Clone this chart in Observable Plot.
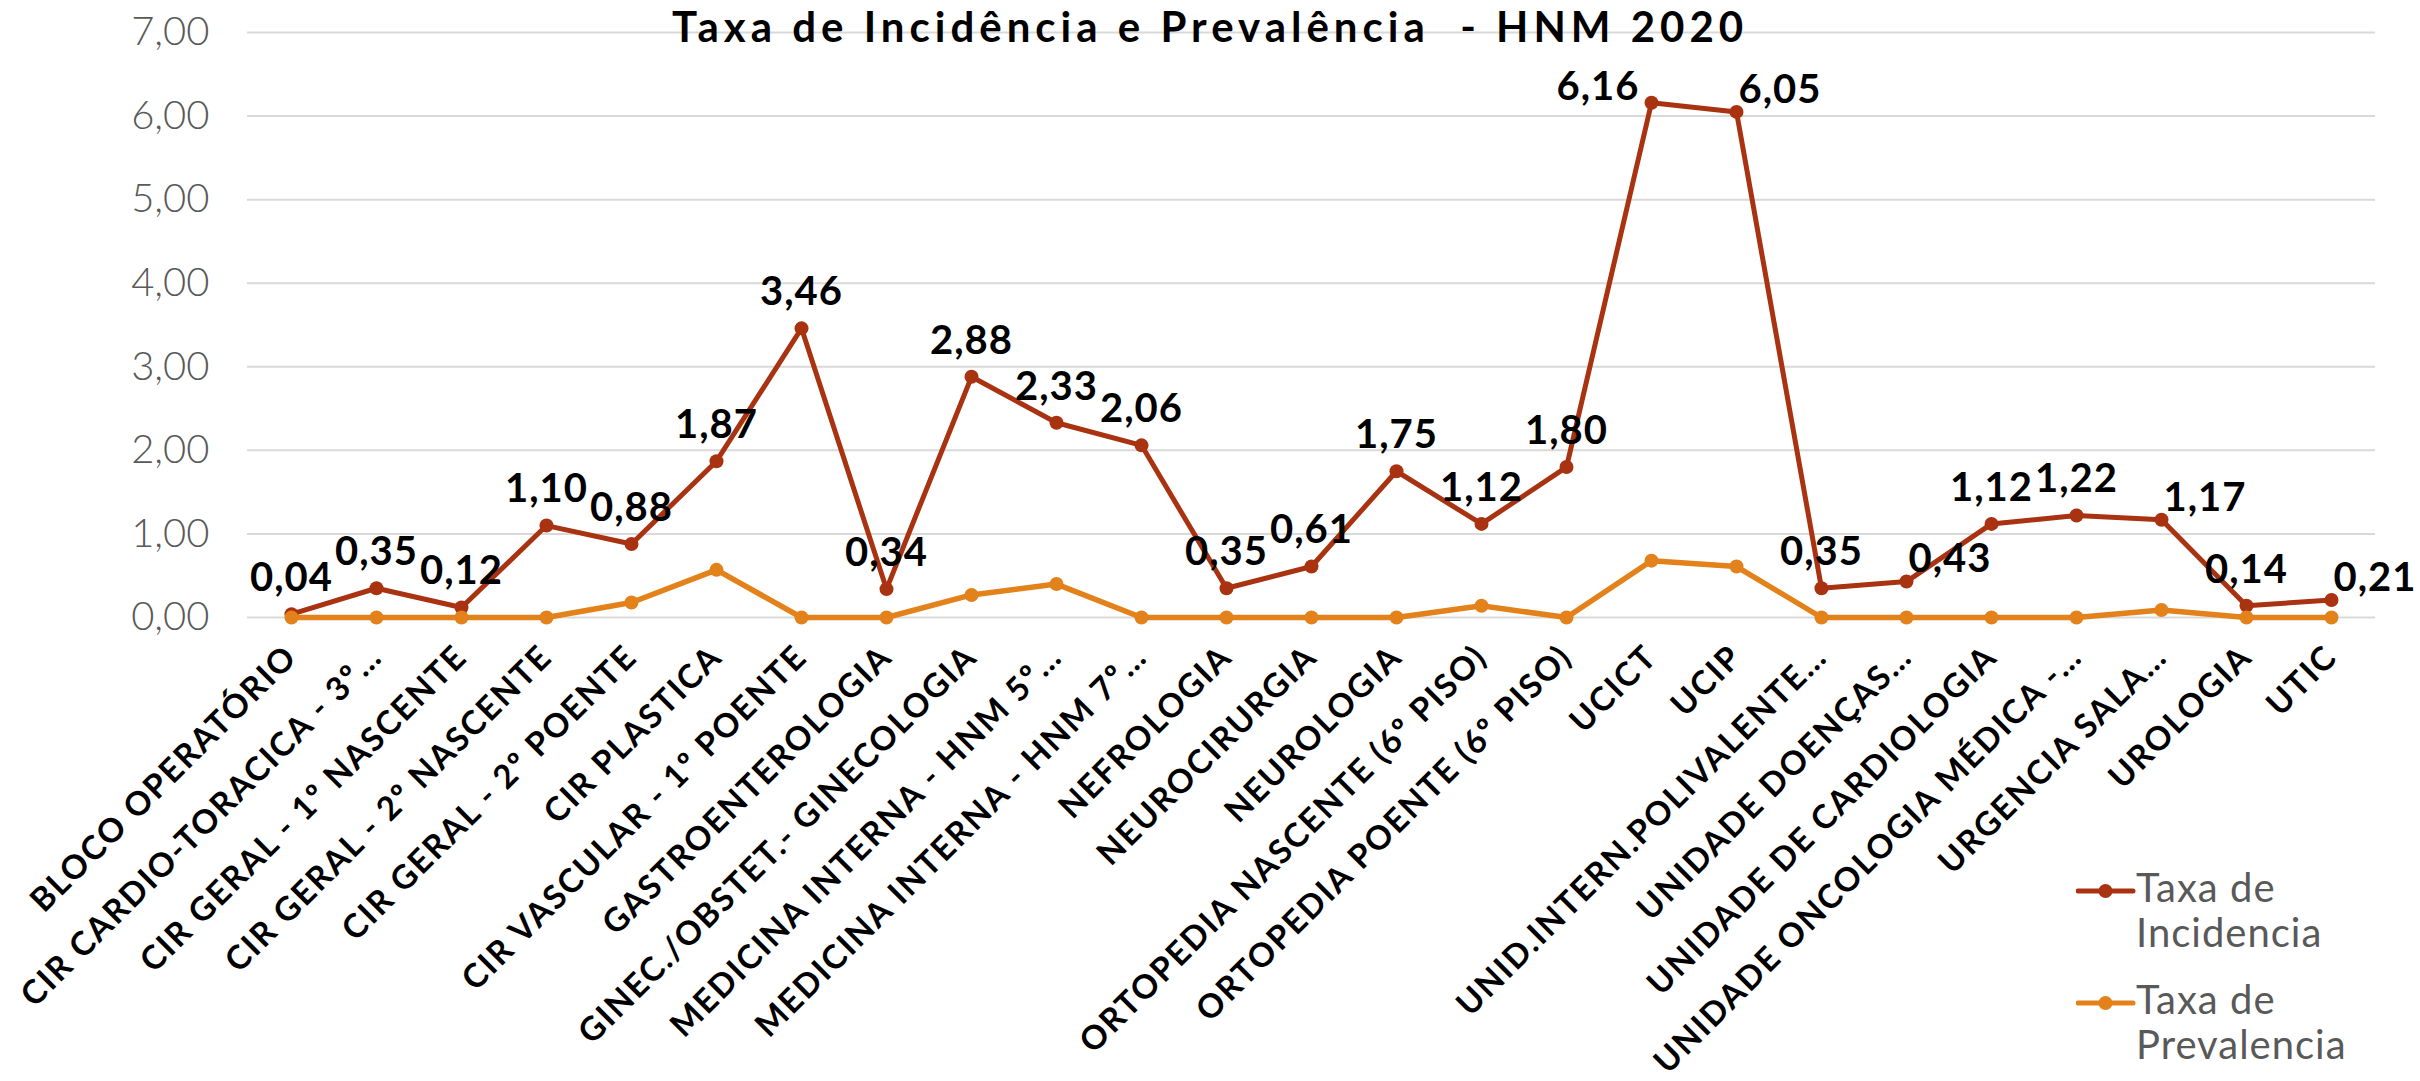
<!DOCTYPE html>
<html>
<head>
<meta charset="utf-8">
<script src="https://cdn.jsdelivr.net/npm/d3@7"></script>
<script src="https://cdn.jsdelivr.net/npm/@observablehq/plot@0.6"></script>
<style>
  html, body { margin: 0; padding: 0; background: #fff; overflow: hidden; }
  #wrap { position: relative; width: 2420px; height: 1081px; overflow: hidden; font-family: Lato, "Open Sans", sans-serif; }
  #title { position: absolute; left: 0; width: 2420px; top: 1px; text-align: center; font-weight: bold; font-size: 42px; letter-spacing: 5px; line-height: 51px; color: #000; white-space: pre; }
  #legend { position: absolute; left: 2076px; top: 865px; font-size: 40px; letter-spacing: 1px; line-height: 45px; color: #595959; }
  .item { display: flex; align-items: flex-start; margin-bottom: 22px; }
  .item svg { margin-top: 14px; flex: none; }
  g[aria-label="x-axis tick label"] text { font-weight: bold; letter-spacing: 1.8px; }
  g[aria-label="text"] text { letter-spacing: 1px; }
</style>
</head>
<body>
<div id="wrap">
  <div id="chart"></div>
  <div id="title"></div>
  <div id="legend"></div>
</div>
<script>
const categories = [
  "BLOCO OPERATÓRIO",
  "CIR CARDIO-TORACICA - 3º…",
  "CIR GERAL - 1º NASCENTE",
  "CIR GERAL - 2º NASCENTE",
  "CIR GERAL - 2º POENTE",
  "CIR PLASTICA",
  "CIR VASCULAR - 1º POENTE",
  "GASTROENTEROLOGIA",
  "GINEC./OBSTET.- GINECOLOGIA",
  "MEDICINA INTERNA - HNM 5º…",
  "MEDICINA INTERNA - HNM 7º…",
  "NEFROLOGIA",
  "NEUROCIRURGIA",
  "NEUROLOGIA",
  "ORTOPEDIA NASCENTE (6º PISO)",
  "ORTOPEDIA POENTE (6º PISO)",
  "UCICT",
  "UCIP",
  "UNID.INTERN.POLIVALENTE…",
  "UNIDADE DOENÇAS…",
  "UNIDADE DE CARDIOLOGIA",
  "UNIDADE ONCOLOGIA MÉDICA -…",
  "URGENCIA SALA…",
  "UROLOGIA",
  "UTIC"
];
const incidencia = [0.04, 0.35, 0.12, 1.10, 0.88, 1.87, 3.46, 0.34, 2.88, 2.33, 2.06, 0.35, 0.61, 1.75, 1.12, 1.80, 6.16, 6.05, 0.35, 0.43, 1.12, 1.22, 1.17, 0.14, 0.21];
const prevalencia = [0, 0, 0, 0, 0.18, 0.57, 0, 0, 0.27, 0.40, 0, 0, 0, 0, 0.14, 0, 0.68, 0.61, 0, 0, 0, 0, 0.09, 0, 0];
const seriesNames = ["Taxa de Incidencia", "Taxa de Prevalencia"];
const seriesLegendLines = [["Taxa de", "Incidencia"], ["Taxa de", "Prevalencia"]];
const seriesColors = ["#A93211", "#E3811B"];
const yTicks = [0, 1, 2, 3, 4, 5, 6, 7];
const titleText = "Taxa de Incidência e Prevalência  - HNM 2020";

const fmt = v => v.toFixed(2).replace(".", ",");
const incRows = categories.map((c, i) => ({cat: c, v: incidencia[i]}));
const preRows = categories.map((c, i) => ({cat: c, v: prevalencia[i]}));

// label side: push a label outward when its neighbour has almost the same value
const near = (a, b) => b !== undefined && Math.abs(a - b) < 0.15;
incRows.forEach((d, i) => {
  const prev = incidencia[i - 1], next = incidencia[i + 1];
  const l = near(d.v, prev), r = near(d.v, next);
  d.side = r && prev !== undefined && d.v - prev > 1 ? "left" : l && !r ? "right" : "middle";
});
const labelStyle = {x: "cat", y: "v", text: d => fmt(d.v), fontSize: 40, fontWeight: "bold", fill: "#000"};

const chart = Plot.plot({
  width: 2420,
  height: 1081,
  marginLeft: 247,
  marginRight: 45,
  marginTop: 32,
  marginBottom: 464,
  style: {fontFamily: "Lato, 'Open Sans', sans-serif", background: "#fff", overflow: "visible"},
  x: {type: "point", domain: categories, padding: 0.5, label: null},
  y: {domain: [0, 7], label: null},
  marks: [
    Plot.ruleY(yTicks, {stroke: "#d9d9d9", strokeWidth: 2}),
    Plot.axisY({ticks: yTicks, tickSize: 0, tickPadding: 38, tickFormat: fmt, fontSize: 40, fill: "#595959", fontWeight: 300, label: null}),
    Plot.axisX({tickSize: 0, tickPadding: 34, tickRotate: -45, fontSize: 33, fill: "#000", label: null}),
    Plot.line(incRows, {x: "cat", y: "v", stroke: seriesColors[0], strokeWidth: 5}),
    Plot.dot(incRows, {x: "cat", y: "v", fill: seriesColors[0], r: 7}),
    Plot.line(preRows, {x: "cat", y: "v", stroke: seriesColors[1], strokeWidth: 5.5}),
    Plot.dot(preRows, {x: "cat", y: "v", fill: seriesColors[1], r: 7}),
    Plot.text(incRows.filter(d => d.side === "middle"), {...labelStyle, dy: -36}),
    Plot.text(incRows.filter(d => d.side === "left"), {...labelStyle, textAnchor: "end", dx: -12, dy: -16}),
    Plot.text(incRows.filter(d => d.side === "right"), {...labelStyle, textAnchor: "start", dx: 2, dy: -22})
  ]
});
document.getElementById("chart").appendChild(chart);
document.getElementById("title").textContent = titleText;

const legend = document.getElementById("legend");
seriesNames.forEach((name, i) => {
  const item = document.createElement("div");
  item.className = "item";
  item.innerHTML = `<svg width="60" height="24"><line x1="2" x2="57" y1="12" y2="12" stroke="${seriesColors[i]}" stroke-width="5" stroke-linecap="round"/><circle cx="29.5" cy="12" r="7" fill="${seriesColors[i]}"/></svg><div>${seriesLegendLines[i].join("<br>")}</div>`;
  legend.appendChild(item);
});
</script>
</body>
</html>
